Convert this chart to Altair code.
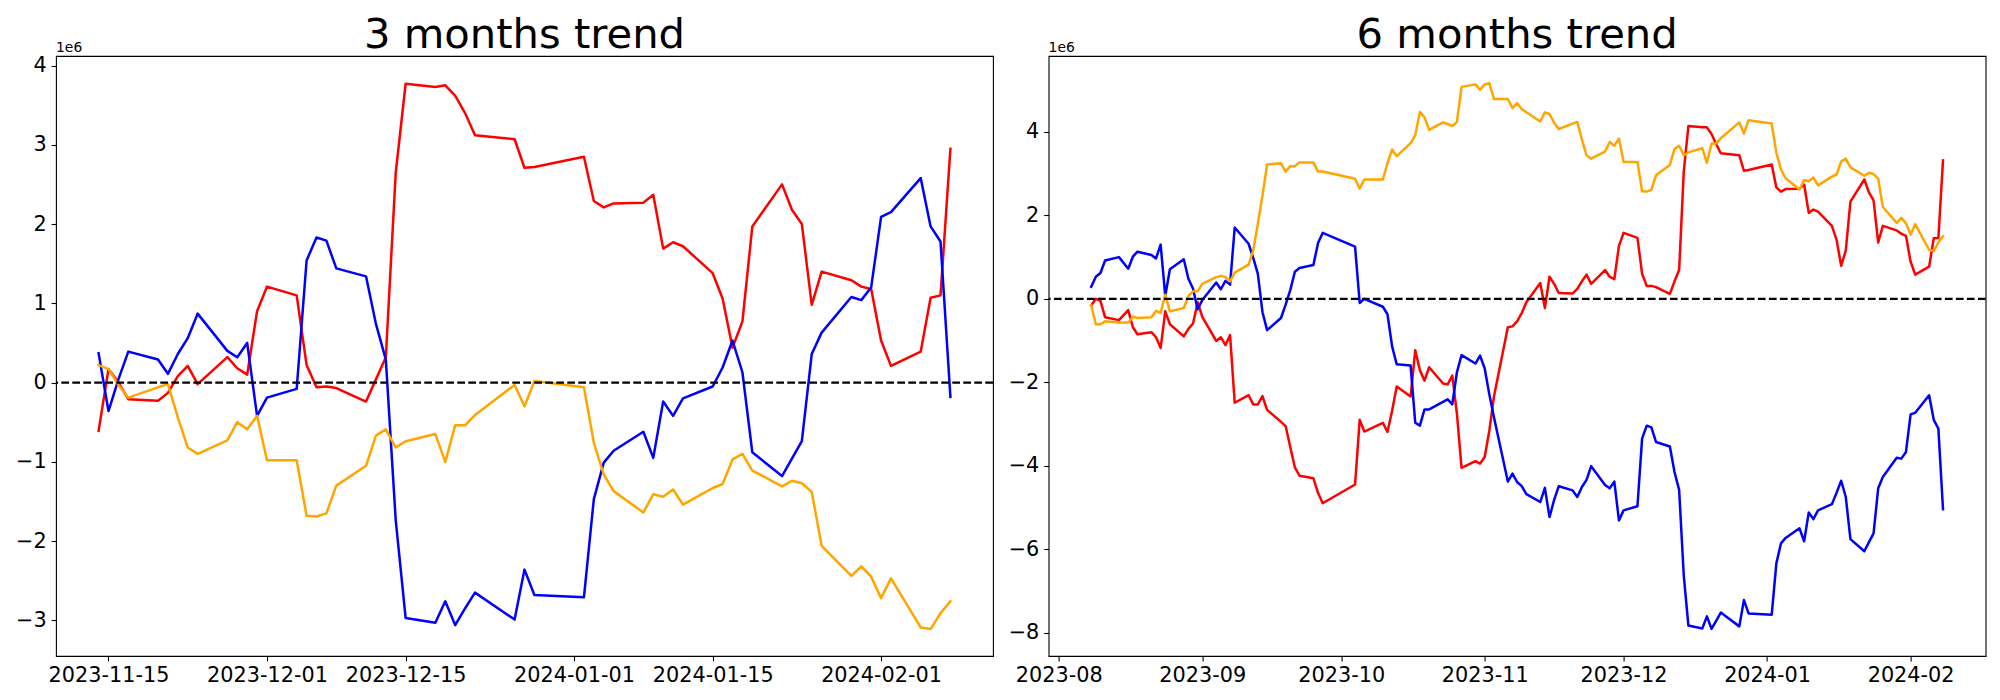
import altair as alt
import pandas as pd

# KRX trading days, 2023-08-08 .. 2024-02-08
R_DATES = (
    ["2023-08-%02d" % d for d in [8, 9, 10, 11, 14, 16, 17, 18, 21, 22, 23, 24, 25, 28, 29, 30, 31]]
    + ["2023-09-%02d" % d for d in [1, 4, 5, 6, 7, 8, 11, 12, 13, 14, 15, 18, 19, 20, 21, 22, 25, 26, 27]]
    + ["2023-10-%02d" % d for d in [4, 5, 6, 10, 11, 12, 13, 16, 17, 18, 19, 20, 23, 24, 25, 26, 27, 30, 31]]
    + ["2023-11-%02d" % d for d in [1, 2, 3, 6, 7, 8, 9, 10, 13, 14, 15, 16, 17, 20, 21, 22, 23, 24, 27, 28, 29, 30]]
    + ["2023-12-%02d" % d for d in [1, 4, 5, 6, 7, 8, 11, 12, 13, 14, 15, 18, 19, 20, 21, 22, 26, 27, 28]]
    + ["2024-01-%02d" % d for d in [2, 3, 4, 5, 8, 9, 10, 11, 12, 15, 16, 17, 18, 19, 22, 23, 24, 25, 26, 29, 30, 31]]
    + ["2024-02-%02d" % d for d in [1, 2, 5, 6, 7, 8]]
)
L_DATES = R_DATES[-60:]

# ---- 3 months (values in units of 1e6)
L_BLUE = [0.37, -0.36, 0.04, 0.39, 0.29, 0.11, 0.36, 0.56, 0.87, 0.40, 0.32, 0.50, -0.42,
          -0.19, -0.08, 1.54, 1.83, 1.79, 1.44, 1.34, 0.74, 0.29, -1.74, -2.97, -3.03, -2.76, -3.06, -2.85, -2.65, -2.99, -2.36, -2.68,
          -2.71, -1.47, -1.01, -0.86, -0.62, -0.95, -0.24, -0.42, -0.20, -0.05, 0.19, 0.53, 0.13, -0.88, -1.18, -0.96, -0.74, 0.36, 0.63, 1.08, 1.04, 1.20,
          2.09, 2.15, 2.58, 1.97, 1.78, -0.18]
L_RED = [-0.61, 0.17, 0.00, -0.21, -0.23, -0.13, 0.08, 0.21, -0.02, 0.32, 0.18, 0.10, 0.90,
         1.21, 1.10, 0.22, -0.06, -0.05, -0.07, -0.24, 0.04, 0.32, 2.65, 3.77, 3.73, 3.75, 3.62, 3.40, 3.12, 3.07, 2.71, 2.72,
         2.85, 2.29, 2.21, 2.26, 2.27, 2.37, 1.69, 1.77, 1.72, 1.38, 1.06, 0.44, 0.77, 1.97, 2.50, 2.18, 2.00, 0.98, 1.40, 1.29, 1.21, 1.18,
         0.53, 0.21, 0.39, 1.07, 1.10, 2.95]
L_ORANGE = [0.22, 0.17, -0.03, -0.19, -0.06, -0.02, -0.44, -0.82, -0.90, -0.73, -0.50, -0.59, -0.42,
            -0.98, -0.98, -1.68, -1.69, -1.65, -1.30, -1.05, -0.67, -0.59, -0.82, -0.74, -0.65, -1.00, -0.54, -0.54, -0.41, -0.03, -0.30, 0.02,
            -0.06, -0.76, -1.16, -1.37, -1.64, -1.41, -1.44, -1.35, -1.54, -1.33, -1.28, -0.97, -0.90, -1.11, -1.31, -1.24, -1.27, -1.38, -2.06, -2.44, -2.32, -2.45,
            -2.72, -2.47, -3.09, -3.11, -2.91, -2.76]

# ---- 6 months
R_BLUE = [0.29, 0.53, 0.62, 0.92, 1.00, 0.72, 1.01, 1.13, 1.05, 0.97, 1.30, 0.07, 0.71, 0.95, 0.48, 0.24, -0.25,
          -0.03, 0.39, 0.23, 0.43, 0.34, 1.71, 1.32, 0.98, 0.60, -0.32, -0.75, -0.46, -0.14, 0.21, 0.65, 0.74, 0.81, 1.34, 1.58,
          1.25, -0.10, 0.00, -0.19, -0.37, -1.14, -1.57, -1.60, -2.97, -3.04, -2.65, -2.65, -2.47, -2.41, -2.53, -1.76, -1.35, -1.55, -1.36,
          -1.67, -2.29, -2.84, -4.38, -4.19, -4.39, -4.49, -4.68, -4.87, -4.53, -5.23, -4.82, -4.49, -4.59, -4.75, -4.51, -4.34, -4.01, -4.46, -4.54, -4.38, -5.31,
          -5.07, -4.97, -3.35, -3.04, -3.08, -3.43, -3.54, -4.15, -4.58, -6.63, -7.83, -7.90, -7.61, -7.91, -7.72, -7.52, -7.85, -7.22, -7.54,
          -7.57, -6.34, -5.86, -5.73, -5.50, -5.81, -5.12, -5.28, -5.07, -4.92, -4.65, -4.36, -4.75, -5.76, -6.05, -5.83, -5.62, -4.54, -4.27, -3.81, -3.83, -3.67,
          -2.77, -2.73, -2.31, -2.90, -3.11, -5.04]
R_RED = [-0.16, 0.00, -0.05, -0.44, -0.51, -0.27, -0.68, -0.85, -0.80, -0.92, -1.18, -0.30, -0.61, -0.90, -0.72, -0.59, -0.08,
         -0.43, -1.01, -0.92, -1.11, -0.87, -2.49, -2.31, -2.53, -2.53, -2.33, -2.66, -2.95, -3.05, -3.55, -4.04, -4.24, -4.30, -4.65, -4.90,
         -4.45, -2.90, -3.18, -2.97, -3.19, -2.68, -2.10, -2.34, -1.23, -1.71, -1.96, -1.64, -2.03, -2.05, -1.84, -2.75, -4.05, -3.89, -3.95,
         -3.79, -3.16, -2.34, -0.68, -0.66, -0.54, -0.34, -0.08, 0.38, -0.22, 0.53, 0.36, 0.14, 0.13, 0.24, 0.42, 0.58, 0.36, 0.69, 0.53, 0.47, 1.27,
         1.58, 1.46, 0.60, 0.31, 0.31, 0.28, 0.12, 0.42, 0.69, 3.05, 4.14, 4.11, 4.11, 3.95, 3.71, 3.49, 3.44, 3.07, 3.09,
         3.22, 2.67, 2.57, 2.63, 2.64, 2.74, 2.06, 2.14, 2.09, 1.75, 1.42, 0.79, 1.16, 2.33, 2.86, 2.55, 2.36, 1.35, 1.75, 1.64, 1.56, 1.51,
         0.89, 0.58, 0.77, 1.45, 1.46, 3.32]
R_ORANGE = [-0.16, -0.61, -0.61, -0.54, -0.57, -0.57, -0.43, -0.46, -0.44, -0.29, -0.34, 0.10, -0.30, -0.22, 0.07, 0.18, 0.18,
            0.36, 0.52, 0.55, 0.52, 0.42, 0.63, 0.82, 1.16, 1.80, 2.48, 3.22, 3.25, 3.05, 3.18, 3.18, 3.27, 3.27, 3.05, 3.05,
            2.88, 2.64, 2.86, 2.86, 3.25, 3.58, 3.42, 3.73, 3.92, 4.48, 4.35, 4.05, 4.23, 4.19, 4.14, 4.24, 5.08, 5.14, 5.01,
            5.14, 5.17, 4.79, 4.79, 4.57, 4.69, 4.55, 4.47, 4.25, 4.47, 4.43, 4.22, 4.07, 4.20, 4.24, 3.82, 3.44, 3.36, 3.53, 3.76, 3.67, 3.84,
            3.28, 3.28, 2.58, 2.57, 2.61, 2.96, 3.21, 3.59, 3.67, 3.44, 3.51, 3.61, 3.26, 3.72, 3.72, 3.85, 4.23, 3.96, 4.28,
            4.20, 3.50, 3.10, 2.89, 2.62, 2.85, 2.82, 2.91, 2.72, 2.93, 2.98, 3.29, 3.36, 3.15, 2.95, 3.02, 2.99, 2.88, 2.20, 1.82, 1.94, 1.81,
            1.54, 1.79, 1.17, 1.15, 1.35, 1.50]

TITLES = ["3 months trend", "6 months trend"]
L_XTICKS = [(2023, 11, 15), (2023, 12, 1), (2023, 12, 15), (2024, 1, 1), (2024, 1, 15), (2024, 2, 1)]
R_XTICKS = [(2023, 8, 1), (2023, 9, 1), (2023, 10, 1), (2023, 11, 1), (2023, 12, 1), (2024, 1, 1), (2024, 2, 1)]
L_YTICKS = [-3, -2, -1, 0, 1, 2, 3, 4]
R_YTICKS = [-8, -6, -4, -2, 0, 2, 4]

FONT = "DejaVu Sans"
W, H = 937, 600
LW = 2.5


def dt(y, m, d, h=0, mi=0):
    return alt.DateTime(year=y, month=m, date=d, hours=h, minutes=mi, utc=True)


def panel(dates, series, xdom, xticks, xfmt, ydom, yticks, title, anchor=False):
    xenc = alt.X("date:T", title=None,
                 scale=alt.Scale(type="utc", domain=xdom),
                 axis=alt.Axis(values=[dt(*t) for t in xticks],
                               labelExpr="utcFormat(datum.value, '%s')" % xfmt,
                               labelFlush=False, labelOverlap=False, grid=False, domain=False))
    yenc = alt.Y("value:Q", title=None,
                 scale=alt.Scale(domain=ydom, nice=False, zero=False),
                 axis=alt.Axis(values=yticks, labelFlush=False, labelOverlap=False, grid=False, domain=False,
                               labelExpr="datum.value < 0 ? '\u2212' + format(-datum.value, 'd') : format(datum.value, 'd')"))
    layers = []
    for vals, color in series:
        df = pd.DataFrame({"date": dates, "value": vals})
        layers.append(
            alt.Chart(df).mark_line(color=color, strokeWidth=LW, strokeJoin="round", strokeCap="square")
            .encode(x=xenc, y=yenc)
        )
    zero = alt.Chart(pd.DataFrame({"value": [0]})).mark_rule(
        color="black", strokeWidth=2.2, strokeDash=[7.7, 3.3]).encode(y=alt.Y("value:Q"))
    ttl = alt.Chart(pd.DataFrame({"t": [title]})).mark_text(
        font=FONT, fontSize=41.7, align="center", baseline="alphabetic", color="black"
    ).encode(text="t:N", x=alt.value(W / 2), y=alt.value(-8.3))
    off = alt.Chart(pd.DataFrame({"t": ["1e6"]})).mark_text(
        font=FONT, fontSize=13.9, align="left", baseline="alphabetic", color="black"
    ).encode(text="t:N", x=alt.value(0), y=alt.value(-4.3))
    parts = layers + [zero, ttl, off]
    if anchor:
        parts.append(alt.Chart(pd.DataFrame({"a": [0]})).mark_rule(strokeOpacity=0, strokeWidth=1).encode(
            x=alt.value(-47.2), x2=alt.value(-47.2), y=alt.value(-46.5), y2=alt.value(-44)))
    return alt.layer(*parts).properties(width=W, height=H)


left = panel(L_DATES, [(L_RED, "red"), (L_BLUE, "blue"), (L_ORANGE, "orange")],
             [dt(2023, 11, 9, 16, 48), dt(2024, 2, 12, 7, 12)], L_XTICKS, "%Y-%m-%d",
             [-3.45, 4.12], L_YTICKS, TITLES[0], anchor=True)
right = panel(R_DATES, [(R_RED, "red"), (R_BLUE, "blue"), (R_ORANGE, "orange")],
              [dt(2023, 7, 29, 19, 12), dt(2024, 2, 17, 4, 48)], R_XTICKS, "%Y-%m",
              [-8.56, 5.82], R_YTICKS, TITLES[1])

chart = alt.hconcat(left, right, spacing=55.6, bounds="flush").properties(padding=0).configure_view(
    stroke="black", strokeWidth=1.1
).configure_axis(
    labelFont=FONT, labelFontSize=20.8, labelColor="black", tickColor="black",
    tickSize=4.9, tickWidth=1.1, labelPadding=4.9
)

chart.save("out.html", embed_options={"renderer": "svg", "actions": False})
